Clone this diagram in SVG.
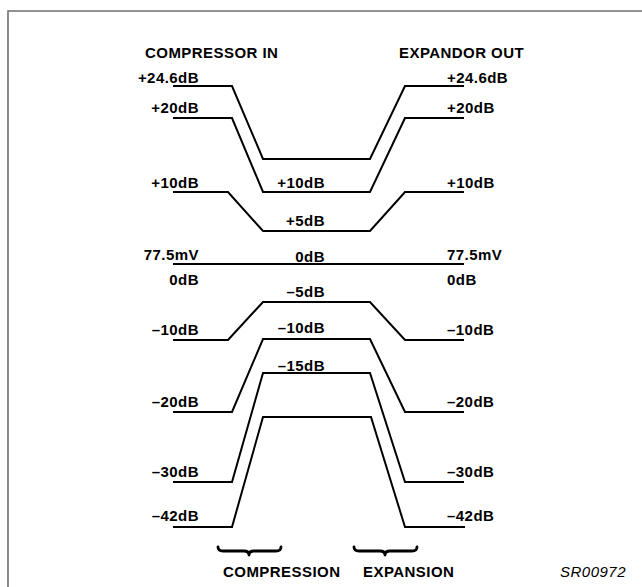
<svg xmlns="http://www.w3.org/2000/svg" width="642" height="587" viewBox="0 0 642 587">
<style>
.t{font-family:"Liberation Sans",Arial,sans-serif;font-weight:bold;font-size:15px;letter-spacing:0.45px;fill:#000}
.e{text-anchor:end}
.ln{fill:none;stroke:#000;stroke-width:2;stroke-linejoin:miter}
.br{fill:none;stroke:#000;stroke-width:2.8;stroke-linecap:round;stroke-linejoin:round}
</style>
<rect x="0" y="0" width="642" height="587" fill="#fff"/>
<path d="M8,587 L8,11 L642,11" fill="none" stroke="#6e6e6e" stroke-width="1.6"/>
<g id="headers">
<text class="t" x="145" y="58">COMPRESSOR IN</text>
<text class="t" x="399" y="58">EXPANDOR OUT</text>
</g>
<g id="connectors">
<polyline id="l246" class="ln" points="173,86 232,86 263,159 370,159 405,86 464,86"/>
<polyline id="l20" class="ln" points="173,118 232,118 263,192 370,192 405,118 464,118"/>
<polyline id="l10" class="ln" points="173,192 228,192 263,231 370,231 405,192 464,192"/>
<polyline id="l0" class="ln" points="173,264 464,264"/>
<polyline id="lm10" class="ln" points="173,340 228,340 263,302 370,302 405,340 464,340"/>
<polyline id="lm20" class="ln" points="173,412 232,412 263,339 370,339 405,412 464,412"/>
<polyline id="lm30" class="ln" points="173,482 232,482 263,373 370,373 405,482 464,482"/>
<polyline id="lm42" class="ln" points="173,527 232,527 263,417 371,417 405,527 465,527"/>
</g>
<g id="left-labels">
<text class="t e" x="199" y="83">+24.6dB</text>
<text class="t e" x="199" y="113">+20dB</text>
<text class="t e" x="199" y="188">+10dB</text>
<text class="t e" x="199" y="260">77.5mV</text>
<text class="t e" x="199" y="285">0dB</text>
<text class="t e" x="199" y="335">–10dB</text>
<text class="t e" x="199" y="407">–20dB</text>
<text class="t e" x="199" y="477">–30dB</text>
<text class="t e" x="199" y="521">–42dB</text>
</g>
<g id="center-labels">
<text class="t e" x="325" y="188">+10dB</text>
<text class="t e" x="325" y="226">+5dB</text>
<text class="t e" x="325" y="262">0dB</text>
<text class="t e" x="325" y="297">–5dB</text>
<text class="t e" x="325" y="333">–10dB</text>
<text class="t e" x="325" y="371">–15dB</text>
</g>
<g id="right-labels">
<text class="t" x="447" y="83">+24.6dB</text>
<text class="t" x="447" y="113">+20dB</text>
<text class="t" x="447" y="188">+10dB</text>
<text class="t" x="447" y="260">77.5mV</text>
<text class="t" x="447" y="285">0dB</text>
<text class="t" x="447" y="335">–10dB</text>
<text class="t" x="447" y="407">–20dB</text>
<text class="t" x="447" y="477">–30dB</text>
<text class="t" x="447" y="521">–42dB</text>
</g>
<g id="compression">
<path class="br" d="M218,547 Q218,551 223,551 L244,551 Q249,551 249,555 Q249,551 254,551 L276,551 Q281,551 281,547"/>
<text class="t" x="223" y="577">COMPRESSION</text>
</g>
<g id="expansion">
<path class="br" d="M354,547 Q354,551 359,551 L380,551 Q385,551 385,555 Q385,551 390,551 L412,551 Q417,551 417,547"/>
<text class="t" x="363" y="577">EXPANSION</text>
</g>
<text id="code" x="560" y="577" style="font-family:'Liberation Sans',Arial,sans-serif;font-style:italic;font-size:15px;letter-spacing:0.5px;fill:#000">SR00972</text>
</svg>
